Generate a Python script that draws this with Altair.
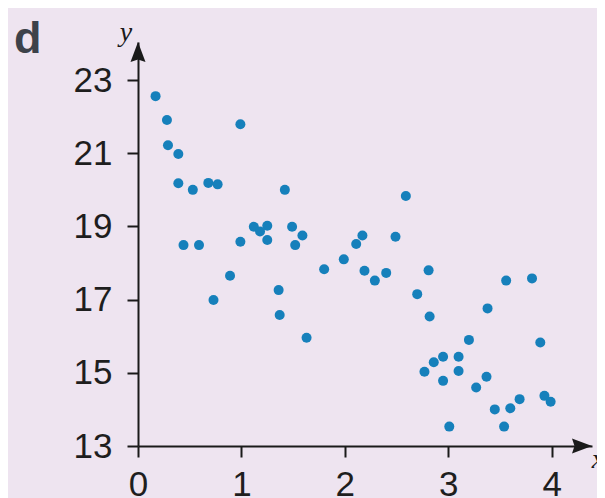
import altair as alt
import pandas as pd

# data
x_vals = [0.17, 0.28, 0.99, 0.29, 0.39, 0.39, 0.53, 0.68, 0.77, 1.42,
          1.12, 1.18, 1.25, 1.25, 0.99, 1.49, 1.59, 1.52, 0.44, 0.59,
          0.89, 1.80, 1.36, 0.73, 1.37, 1.63, 2.59, 2.17, 2.11, 2.49,
          1.99, 2.19, 2.29, 2.40, 2.81, 2.70, 2.82, 3.56, 3.81, 3.38,
          3.89, 3.20, 2.95, 2.86, 3.10, 2.77, 3.10, 2.95, 3.37, 3.27,
          3.93, 3.99, 3.69, 3.60, 3.45, 3.01, 3.54]
y_vals = [22.56, 21.91, 21.79, 21.22, 20.98, 20.18, 20.00, 20.19, 20.15, 20.00,
          18.99, 18.86, 19.02, 18.63, 18.58, 18.99, 18.75, 18.49, 18.49, 18.49,
          17.65, 17.83, 17.26, 16.99, 16.58, 15.96, 19.83, 18.75, 18.52, 18.72,
          18.10, 17.79, 17.52, 17.73, 17.80, 17.15, 16.54, 17.52, 17.58, 16.76,
          15.83, 15.90, 15.44, 15.29, 15.44, 15.03, 15.05, 14.78, 14.89, 14.60,
          14.37, 14.21, 14.28, 14.03, 14.00, 13.53, 13.53]
x_ticks = [0, 1, 2, 3, 4]
y_ticks = [13, 15, 17, 19, 21, 23]
panel_label = ["d"]
x_axis_label = ["x"]
y_axis_label = ["y"]

X_MIN, X_MAX = 0, 4.39
Y_MIN, Y_MAX = 13, 24.04

df = pd.DataFrame({"x": x_vals, "y": y_vals})

xscale = alt.Scale(domain=[X_MIN, X_MAX], nice=False, zero=False)
yscale = alt.Scale(domain=[Y_MIN, Y_MAX], nice=False, zero=False)

AX = dict(grid=False, title=None, domainColor="#1a1a1a", domainWidth=2,
          tickColor="#1a1a1a", tickWidth=2, tickSize=11, format="d",
          labelFont="Liberation Sans", labelFontSize=35, labelColor="#1e1e1e",
          labelFlush=False)

points = alt.Chart(df).mark_circle(size=100, color="#1680bb", opacity=1).encode(
    x=alt.X("x:Q", scale=xscale,
            axis=alt.Axis(values=x_ticks, labelPadding=10, **AX)),
    y=alt.Y("y:Q", scale=yscale,
            axis=alt.Axis(values=y_ticks, labelPadding=15, **AX)),
)

up_arrow = alt.Chart(pd.DataFrame({"x": [X_MIN], "y": [Y_MAX]})).mark_point(
    shape="M0,-1L0.75,1L0,0.75L-0.75,1Z", size=400, filled=True,
    color="#1a1a1a", opacity=1, yOffset=10
).encode(x=alt.X("x:Q", scale=xscale), y=alt.Y("y:Q", scale=yscale))

right_arrow = alt.Chart(pd.DataFrame({"x": [X_MAX], "y": [Y_MIN]})).mark_point(
    shape="M1,0L-1,0.75L-0.75,0L-1,-0.75Z", size=400, filled=True,
    color="#1a1a1a", opacity=1, xOffset=-10
).encode(x=alt.X("x:Q", scale=xscale), y=alt.Y("y:Q", scale=yscale))

d_label = alt.Chart(pd.DataFrame({"t": panel_label})).mark_text(
    font="Liberation Sans", fontWeight="bold", fontSize=45, color="#3d424a",
    align="left", baseline="alphabetic"
).encode(text="t:N", x=alt.value(-124), y=alt.value(11))

y_lab = alt.Chart(pd.DataFrame({"t": y_axis_label})).mark_text(
    font="Liberation Serif", fontStyle="italic", fontSize=28, color="#1a1a1a",
    align="center", baseline="alphabetic"
).encode(text="t:N", x=alt.value(-12), y=alt.value(-1))

x_lab = alt.Chart(pd.DataFrame({"t": x_axis_label})).mark_text(
    font="Liberation Serif", fontStyle="italic", fontSize=28, color="#1a1a1a",
    align="center", baseline="alphabetic"
).encode(text="t:N", x=alt.value(460), y=alt.value(426))

chart = alt.layer(points, up_arrow, right_arrow, d_label, y_lab, x_lab).properties(
    width=454, height=404,
    autosize=alt.AutoSizeParams(type="none"),
    padding={"left": 130, "top": 34, "right": 5, "bottom": 54},
    background="#eee4f0",
).configure_view(stroke=None)

chart.save("out.html", embed_options={"renderer": "svg", "actions": False})
